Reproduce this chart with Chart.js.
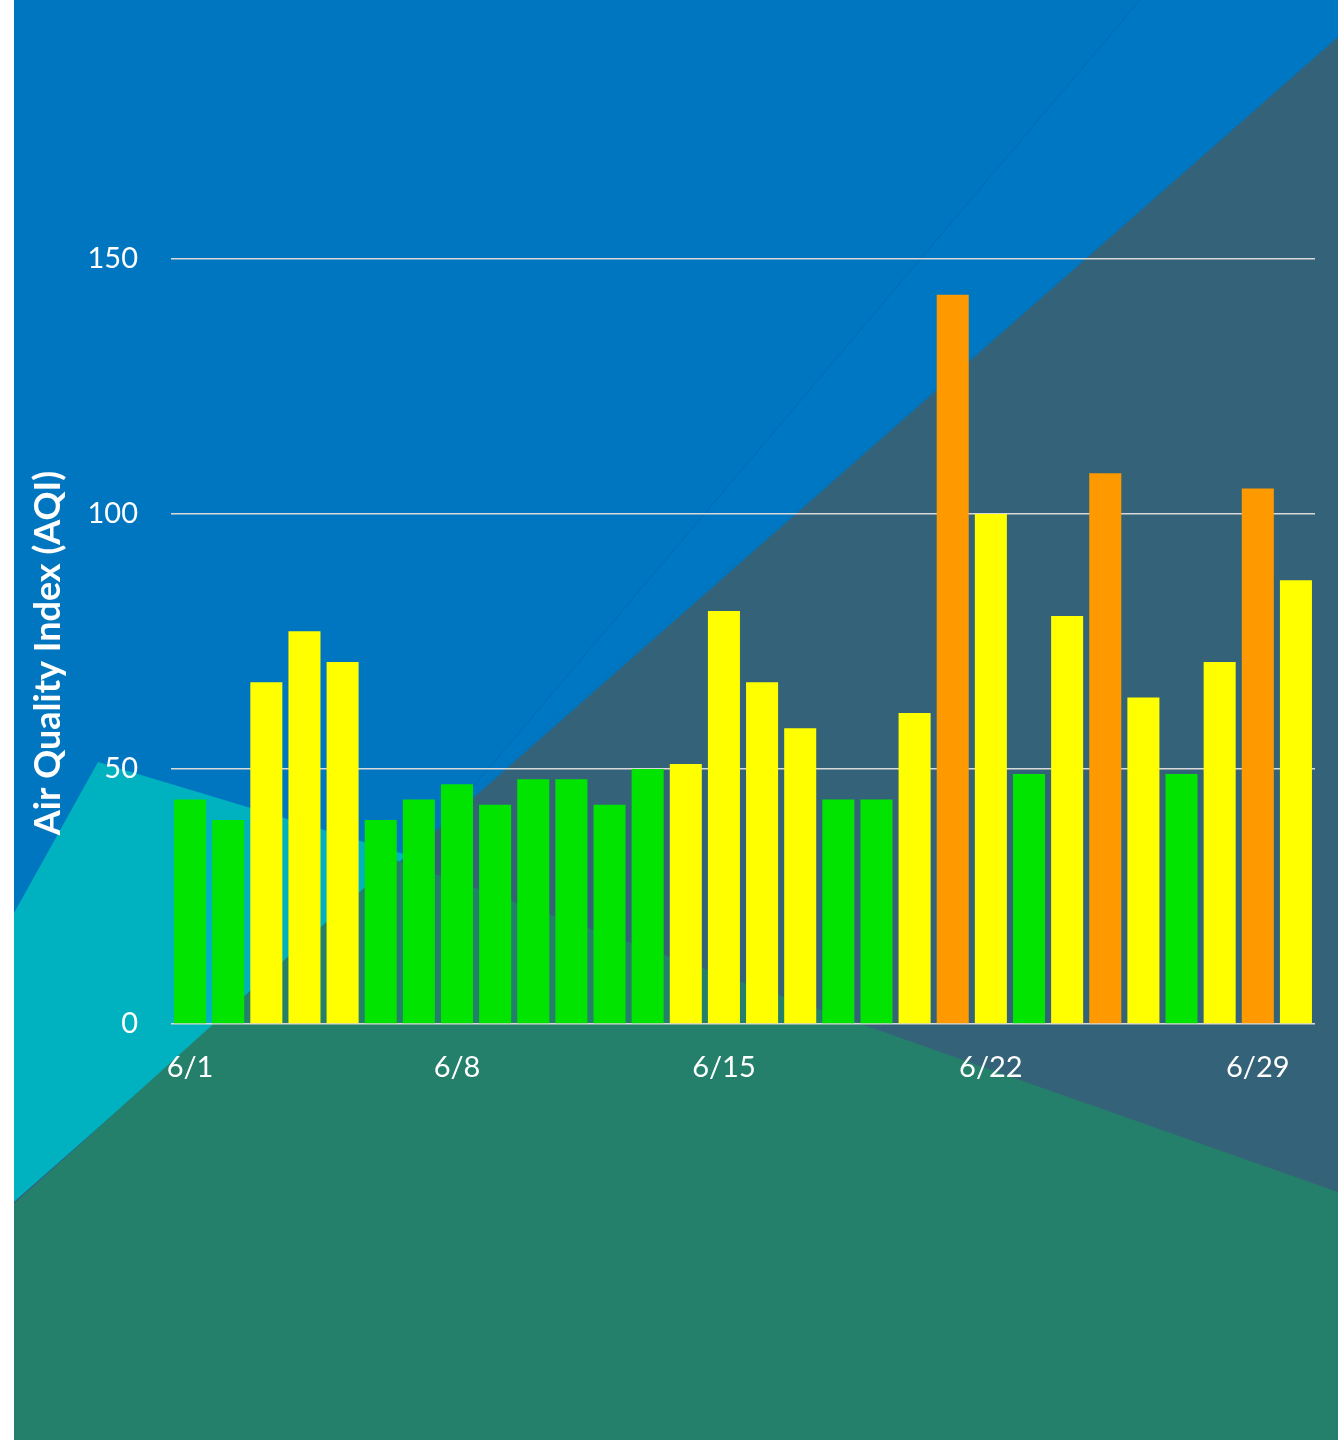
<!DOCTYPE html>
<html>
<head>
<meta charset="utf-8">
<script src="https://cdn.jsdelivr.net/npm/chart.js@4.4.1/dist/chart.umd.min.js"></script>
<style>
html,body{margin:0;padding:0;background:#ffffff;}
canvas{display:block;}
</style>
</head>
<body>
<canvas id="c" width="1338" height="1440"></canvas>
<script>
// ---- data ----
const categories = ['6/1','6/2','6/3','6/4','6/5','6/6','6/7','6/8','6/9','6/10',
                    '6/11','6/12','6/13','6/14','6/15','6/16','6/17','6/18','6/19','6/20',
                    '6/21','6/22','6/23','6/24','6/25','6/26','6/27','6/28','6/29','6/30'];
const aqiValues = [44,40,67,77,71,40,44,47,43,48,
                   48,43,50,51,81,67,58,44,44,61,
                   143,100,49,80,108,64,49,71,105,87];
const xTickLabels = ['6/1','6/8','6/15','6/22','6/29'];
const yTickValues = [0,50,100,150];
const aqiLevelUpper = [50,100,150];
const aqiLevelColors = ['#00E400','#FFFF00','#FF9900'];
const yAxisTitle = 'Air Quality Index (AQI)';

function levelColor(v){
  for (let i = 0; i < aqiLevelUpper.length; i++) if (v <= aqiLevelUpper[i]) return aqiLevelColors[i];
  return aqiLevelColors[aqiLevelColors.length - 1];
}

function poly(ctx, pts, fill){
  ctx.beginPath();
  ctx.moveTo(pts[0][0], pts[0][1]);
  for (let i = 1; i < pts.length; i++) ctx.lineTo(pts[i][0], pts[i][1]);
  ctx.closePath();
  ctx.fillStyle = fill;
  ctx.fill();
}

const backgroundPlugin = {
  id: 'decorBackground',
  beforeDraw(chart){
    const ctx = chart.ctx;
    const W = chart.width, H = chart.height;
    ctx.save();
    ctx.fillStyle = '#ffffff';
    ctx.fillRect(0, 0, W, H);
    ctx.fillStyle = '#0075C0';
    ctx.fillRect(14, 0, W - 14, H);
    // slightly lighter band
    poly(ctx, [[462,800],[1140,0],[1338,0],[1338,37]], '#0077C3');
    // faint line
    ctx.beginPath();
    ctx.moveTo(462,800); ctx.lineTo(1140,0);
    ctx.strokeStyle = 'rgba(0,90,165,0.35)';
    ctx.lineWidth = 1;
    ctx.stroke();
    // cyan
    poly(ctx, [[14,913],[98,762],[407,855],[14,1202]], '#00B2BF');
    // slate
    poly(ctx, [[14,1202],[1338,37],[1338,H],[14,H]], '#346379');
    // green
    poly(ctx, [[14,1204],[395,860],[1338,1192],[1338,H],[14,H]], '#25806B');
    ctx.restore();
  }
};

const titlePlugin = {
  id: 'yTitle',
  afterDraw(chart){
    const ctx = chart.ctx;
    ctx.save();
    ctx.translate(60, 653);
    ctx.rotate(-Math.PI / 2);
    ctx.font = 'bold 36px Lato';
    ctx.fillStyle = '#ffffff';
    ctx.textAlign = 'center';
    ctx.textBaseline = 'alphabetic';
    ctx.fillText(yAxisTitle, 0, 0);
    ctx.restore();
  }
};

new Chart(document.getElementById('c'), {
  type: 'bar',
  data: {
    labels: categories,
    datasets: [{
      data: aqiValues,
      backgroundColor: aqiValues.map(levelColor),
      borderWidth: 0,
      barPercentage: 0.84,
      categoryPercentage: 1.0
    }]
  },
  options: {
    responsive: false,
    devicePixelRatio: 1,
    animation: false,
    layout: { padding: { left: 0, right: 23, top: 208, bottom: 0 } },
    plugins: { legend: { display: false }, tooltip: { enabled: false } },
    scales: {
      x: {
        grid: { display: false },
        border: { display: false },
        ticks: {
          autoSkip: false,
          maxRotation: 0,
          minRotation: 0,
          padding: 18,
          color: '#ffffff',
          font: { family: 'Lato', size: 29 },
          callback: function(value, index){
            const lab = categories[index];
            return xTickLabels.includes(lab) ? lab : '';
          }
        },
        afterFit: function(s){ s.height = 416; }
      },
      y: {
        min: 0,
        max: 160,
        border: { display: false },
        grid: { color: '#D9D9D9', lineWidth: 1.5, drawTicks: false },
        ticks: {
          padding: 33,
          color: '#ffffff',
          font: { family: 'Lato', size: 29 }
        },
        afterBuildTicks: function(s){ s.ticks = yTickValues.map(v => ({ value: v })); },
        afterFit: function(s){ s.width = 171; }
      }
    }
  },
  plugins: [backgroundPlugin, titlePlugin]
});
</script>
</body>
</html>
